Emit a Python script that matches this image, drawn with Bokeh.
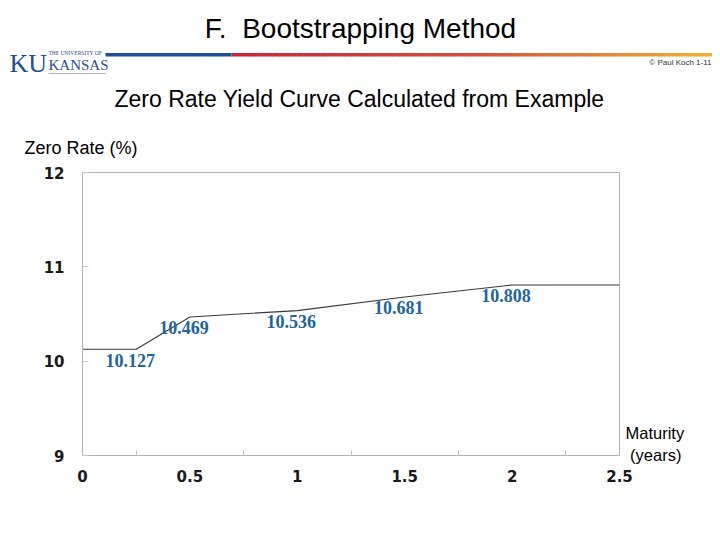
from bokeh.plotting import figure
from bokeh.models import Range1d, Label, FixedTicker, ColumnDataSource, LinearAxis
from bokeh.layouts import column
from bokeh.embed import file_html
from bokeh.resources import INLINE
from bokeh.core.properties import value

# ---- data ----
maturity = [0.0, 0.25, 0.5, 1.0, 1.5, 2.0, 2.5]
zero_rate = [10.127, 10.127, 10.469, 10.536, 10.681, 10.808, 10.808]
label_x = [0.25, 0.5, 1.0, 1.5, 2.0]
label_y = [10.127, 10.469, 10.536, 10.681, 10.808]
label_text = ["10.127", "10.469", "10.536", "10.681", "10.808"]
x_ticks = [0, 0.5, 1, 1.5, 2, 2.5]
x_minor = [0.25, 0.75, 1.25, 1.75, 2.25]
y_ticks = [9, 10, 11, 12]

# ---- header (page y 0..160) ----
W = 712
HH = 160
hdr = figure(width=W, height=HH, output_backend="svg", toolbar_location=None,
             x_range=Range1d(0, W), y_range=Range1d(HH, 0), min_border=0,
             x_axis_location=None, y_axis_location=None)
hdr.frame_align = False
hdr.grid.visible = False
hdr.outline_line_color = None
hdr.background_fill_color = "white"
hdr.border_fill_color = "white"

hdr.add_layout(Label(x=360, y=28, text="F.\u00a0 Bootstrapping Method", text_font="Liberation Sans",
                     text_font_size="28px", text_align="center", text_baseline="middle", text_color="#000000"))

# gradient rule
def lerp(c1, c2, t):
    return "#%02x%02x%02x" % tuple(int(round(a + (b - a) * t)) for a, b in zip(c1, c2))

hdr.quad(left=[105], right=[231], bottom=[56], top=[52.5], color="#1f4e96", line_color=None)
stops = [(231, (200, 36, 62)), (470, (212, 80, 60)), (712, (238, 180, 52))]
segs_l, segs_r, cols = [], [], []
for (xa, ca), (xb, cb) in zip(stops[:-1], stops[1:]):
    n = 40
    for i in range(n):
        l = xa + (xb - xa) * i / n
        r = xa + (xb - xa) * (i + 1) / n
        segs_l.append(l)
        segs_r.append(r + 0.5)
        cols.append(lerp(ca, cb, i / n))
hdr.quad(left=segs_l, right=segs_r, bottom=[56] * len(cols), top=[52.5] * len(cols), color=cols, line_color=None)

# logo
hdr.add_layout(Label(x=9, y=63, text="KU", text_font="Liberation Serif", text_font_size="26px",
                     text_align="left", text_baseline="middle", text_color="#1f4e96"))
hdr.add_layout(Label(x=48, y=52.5, text="THE UNIVERSITY OF", text_font="Liberation Serif", text_font_size="5.5px",
                     text_align="left", text_baseline="middle", text_color="#1f4e96"))
hdr.add_layout(Label(x=48, y=64, text="KANSAS", text_font="Liberation Serif", text_font_size="15px",
                     text_align="left", text_baseline="middle", text_color="#1f4e96"))
hdr.segment(x0=[48], y0=[73], x1=[105], y1=[73], line_color="#a8b2c4", line_width=1)
hdr.add_layout(Label(x=711, y=62, text="\u00a9 Paul Koch 1-11", text_font="Liberation Sans", text_font_size="8px",
                     text_align="right", text_baseline="middle", text_color="#333333"))

hdr.add_layout(Label(x=359, y=98, text="Zero Rate Yield Curve Calculated from Example",
                     text_font="Liberation Sans", text_font_size="23px", text_align="center",
                     text_baseline="middle", text_color="#000000"))
hdr.add_layout(Label(x=24, y=147, text="Zero Rate (%)", text_font="Liberation Sans",
                     text_font_size="18px", text_align="left", text_baseline="middle", text_color="#000000"))

# ---- main chart (page y 160..532) ----
p = figure(frame_width=537, frame_height=283, output_backend="svg", toolbar_location=None,
           x_range=Range1d(0, 2.5), y_range=Range1d(9, 12),
           min_border_left=82, min_border_right=93, min_border_top=12, min_border_bottom=77)
p.frame_align = False
p.grid.visible = False
p.outline_line_color = "#b4b4b4"
p.background_fill_color = "white"
p.border_fill_color = "white"

p.line(maturity, zero_rate, line_color="#3a3a3a", line_width=1.1)

src = ColumnDataSource(dict(x=label_x, y=label_y, t=label_text))
p.text(x="x", y="y", text="t", source=src, x_offset=-6, y_offset=11,
       text_font=value("Liberation Serif"), text_font_style="bold", text_font_size="18px",
       text_align="center", text_baseline="middle", text_color="#22649e")

for ax in (p.xaxis[0], p.yaxis[0]):
    ax.axis_line_color = "#b4b4b4"
    ax.major_label_text_font = "DejaVu Sans"
    ax.major_label_text_font_style = "bold"
    ax.major_label_text_font_size = "15px"
    ax.major_label_text_color = "#1a1a1a"

p.xaxis.ticker = FixedTicker(ticks=x_ticks, minor_ticks=x_minor)
p.xaxis.major_tick_line_color = None
p.xaxis.minor_tick_line_color = "#c0c0c0"
p.xaxis.minor_tick_in = 5
p.xaxis.minor_tick_out = 0
p.xaxis.major_label_standoff = 8
p.xaxis.major_label_overrides = {0: "0", 0.5: "0.5", 1: "1", 1.5: "1.5", 2: "2", 2.5: "2.5"}

p.yaxis.ticker = FixedTicker(ticks=y_ticks, minor_ticks=[])
p.yaxis.major_tick_line_color = "#c8c8c8"
p.yaxis.major_tick_in = 6
p.yaxis.major_tick_out = 0
p.yaxis.major_label_standoff = 18

# axis-title at the right end of the x axis, drawn as the label of a right-hand axis
right_ax = LinearAxis(ticker=FixedTicker(ticks=[9.125], minor_ticks=[]),
                      major_label_overrides={9.125: "Maturity\n\u00a0(years)"},
                      axis_line_color=None, major_tick_line_color=None, minor_tick_line_color=None,
                      major_label_standoff=0, major_label_text_font="Liberation Sans",
                      major_label_text_font_size="16.5px", major_label_text_color="#000000")
p.add_layout(right_ax, "right")

layout = column(hdr, p, spacing=0)
open("out.html", "w").write(file_html(layout, INLINE))
